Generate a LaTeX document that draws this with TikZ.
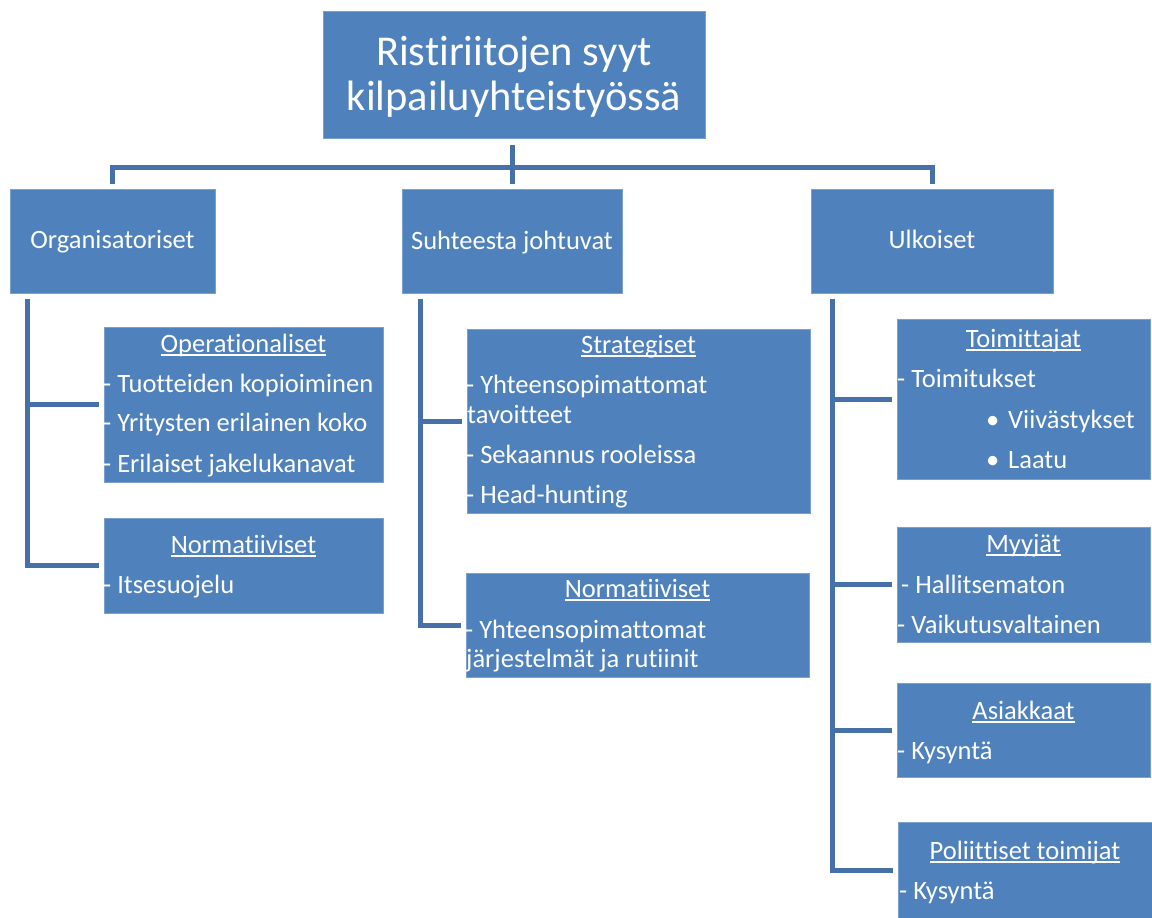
\documentclass[tikz,border=0pt]{standalone}
\usepackage{fontspec}
\setmainfont{Carlito}[Ligatures=CommonOff]
\definecolor{boxblue}{HTML}{4F81BD}
\definecolor{lineblue}{HTML}{4570A8}
\newcommand\ulx[1]{\setbox0\hbox{#1}\rlap{\rule[-3.5pt]{\wd0}{1.4pt}}\box0}
\tikzset{
  bx/.style={fill=boxblue, draw=boxblue!75!white, line width=0.7pt, inner sep=0pt},
  conn/.style={draw=lineblue, line width=5pt, line join=miter},
  itemtxt/.style={text=white, inner sep=0pt, anchor=base west, font=\fontsize{26.5}{30}\selectfont},
  headtxt/.style={itemtxt, anchor=base},
  titletxt/.style={text=white, inner sep=0pt, anchor=base, font=\fontsize{42.5}{46}\selectfont},
}
\begin{document}
\begin{tikzpicture}[x=1pt,y=-1pt]
\useasboundingbox (0,0) rectangle (1152,918);
% boxes
\node[bx, minimum width=382pt, minimum height=127pt] (top) at (514,74.5) {};
\node[bx, minimum width=205pt, minimum height=104pt] (org) at (112.5,241) {};
\node[bx, minimum width=220pt, minimum height=104pt] (suh) at (512,241) {};
\node[bx, minimum width=242pt, minimum height=104pt] (ulk) at (932,241) {};
\node[bx, minimum width=279pt, minimum height=155pt] (ope) at (243.5,404.5) {};
\node[bx, minimum width=279pt, minimum height=95pt] (nor1) at (243.5,565.5) {};
\node[bx, minimum width=343pt, minimum height=184pt] (str) at (638.5,421) {};
\node[bx, minimum width=343pt, minimum height=104pt] (nor2) at (637.5,625) {};
\node[bx, minimum width=253pt, minimum height=160pt] (toi) at (1023.5,399) {};
\node[bx, minimum width=253pt, minimum height=115pt] (myy) at (1023.5,584.5) {};
\node[bx, minimum width=253pt, minimum height=94pt] (asi) at (1023.5,730) {};
\node[bx, minimum width=254pt, minimum height=96pt] (pol) at (1025,870) {};
% connectors: top level
\coordinate (hub) at (512,167);
\draw[conn, shorten <=7pt] (hub |- top.south) -- (hub);
\draw[conn, shorten >=5pt] (hub) -| (org.north);
\draw[conn, shorten >=5pt] (hub) -| (ulk.north);
\draw[conn, shorten >=5pt] (hub) -- (suh.north);
% left column
\coordinate (ltop) at ([xshift=18pt,yshift=-6pt]org.south west);
\draw[conn, shorten >=5pt] (ltop) |- (ope.west);
\draw[conn, shorten >=5pt] (ltop) |- (nor1.west);
% middle column
\coordinate (mtop) at ([xshift=19pt,yshift=-6pt]suh.south west);
\draw[conn, shorten >=5pt] (mtop) |- (str.west);
\draw[conn, shorten >=5pt] (mtop) |- (nor2.west);
% right column
\coordinate (rtop) at ([xshift=22pt,yshift=-6pt]ulk.south west);
\draw[conn, shorten >=5pt] (rtop) |- (toi.west);
\draw[conn, shorten >=5pt] (rtop) |- (myy.west);
\draw[conn, shorten >=5pt] (rtop) |- (asi.west);
\draw[conn, shorten >=5pt] (rtop) |- (pol.west);
% title
\node[titletxt] (t1) at (514,65) {Ristiriitojen syyt};
\node[titletxt] (t2) at (514,110) {kilpailuyhteistyössä};
% level 1
\node[headtxt] (l1) at (112.5,248) {Organisatoriset};
\node[headtxt] (l2) at (512,249) {Suhteesta johtuvat};
\node[headtxt] (l3) at (932,248) {Ulkoiset};
% operationaliset
\node[headtxt] (h1) at (243.5,352) {\ulx{Operationaliset}};
\node[itemtxt] (i11) at (103,392) {- Tuotteiden kopioiminen};
\node[itemtxt] (i12) at (103,431) {- Yritysten erilainen koko};
\node[itemtxt] (i13) at (103,472) {- Erilaiset jakelukanavat};
% normatiiviset 1
\node[headtxt] (h2) at (243.5,553) {\ulx{Normatiiviset}};
\node[itemtxt] (i21) at (103,593) {- Itsesuojelu};
% strategiset
\node[headtxt] (h3) at (638.5,353) {\ulx{Strategiset}};
\node[itemtxt] (i31) at (466,393) {- Yhteensopimattomat};
\node[itemtxt] (i32) at (467,423) {tavoitteet};
\node[itemtxt] (i33) at (466,463) {- Sekaannus rooleissa};
\node[itemtxt] (i34) at (466,503) {- Head-hunting};
% normatiiviset 2
\node[headtxt] (h4) at (637.5,597) {\ulx{Normatiiviset}};
\node[itemtxt] (i41) at (465,638) {- Yhteensopimattomat};
\node[itemtxt] (i42) at (466,667) {järjestelmät ja rutiinit};
% toimittajat
\node[headtxt] (h5) at (1023.5,347) {\ulx{Toimittajat}};
\node[itemtxt] (i51) at (897,387) {- Toimitukset};
\node[itemtxt] (i52) at (986,428) {\makebox[22pt][l]{•}Viivästykset};
\node[itemtxt] (i53) at (986,468) {\makebox[22pt][l]{•}Laatu};
% myyjat
\node[headtxt] (h6) at (1023.5,552) {\ulx{Myyjät}};
\node[itemtxt] (i61) at (901,593) {- Hallitsematon};
\node[itemtxt] (i62) at (897,633) {- Vaikutusvaltainen};
% asiakkaat
\node[headtxt] (h7) at (1023.5,719) {\ulx{Asiakkaat}};
\node[itemtxt] (i71) at (897,759) {- Kysyntä};
% poliittiset
\node[headtxt] (h8) at (1025,859) {\ulx{Poliittiset toimijat}};
\node[itemtxt] (i81) at (899,899) {- Kysyntä};
\end{tikzpicture}
\end{document}
